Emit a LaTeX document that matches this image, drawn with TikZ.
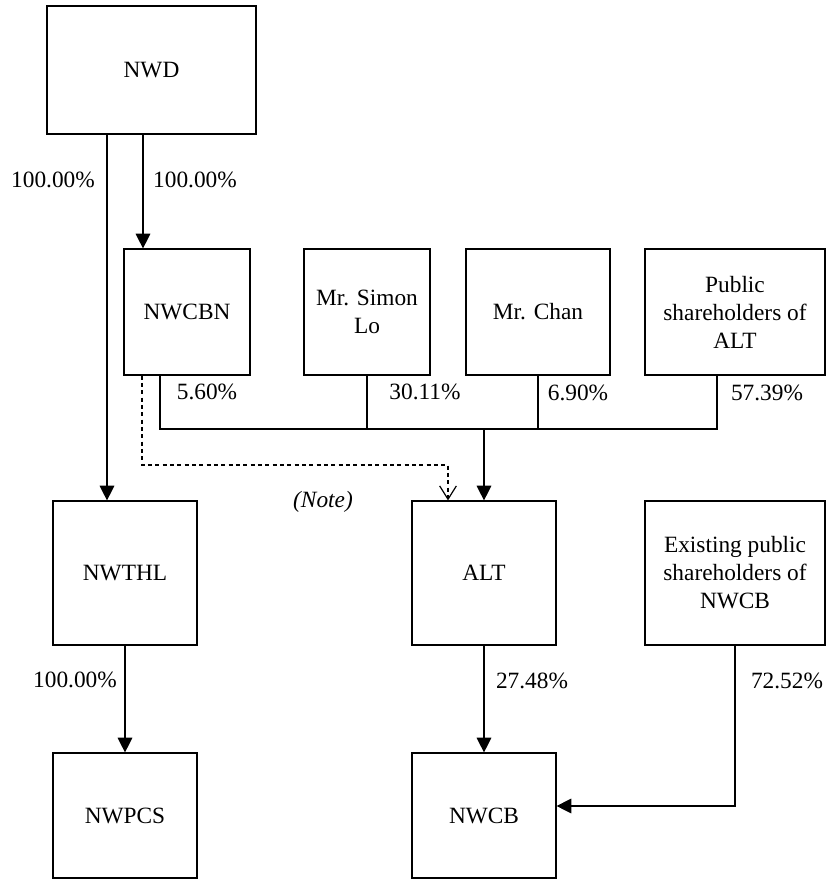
\documentclass[tikz,border=0pt]{standalone}
\usepackage{fontspec}
\setmainfont{Liberation Serif}
\usetikzlibrary{arrows.meta}

\begin{document}
\begin{tikzpicture}[x=0.75pt,y=0.75pt,yscale=-1,xscale=1,
  every node/.style={font=\fontsize{17.5}{21}\selectfont},
  box/.style={draw,line width=0.9pt,inner sep=0pt,align=center},
  boxsize/.style 2 args={minimum width=#1*0.75pt,minimum height=#2*0.75pt},
  pct/.style={inner sep=0.75pt},
  link/.style={line width=0.9pt},
  arr/.style={link,-{Triangle[length=11pt,width=11pt]}},
  notearr/.style={link,dash pattern=on 3pt off 2.5pt,-{Straight Barb[length=10pt,width=12.5pt]}}]
\useasboundingbox (0,0) rectangle (827,881);

%Shape: Boxes
\node[box,boxsize={209}{128}] (nwd) at (151.5,70) {NWD};
\node[box,boxsize={126}{126}] (nwcbn) at (187,312) {NWCBN};
\node[box,boxsize={126}{126}] (simonlo) at (367,312) {Mr. Simon\\Lo};
\node[box,boxsize={144}{126}] (chan) at (538,312) {Mr. Chan};
\node[box,boxsize={180}{126}] (pubalt) at (735,312) {Public\\shareholders of\\ALT};
\node[box,boxsize={144}{144}] (nwthl) at (125,573) {NWTHL};
\node[box,boxsize={144}{144}] (alt) at (484,573) {ALT};
\node[box,boxsize={180}{144}] (exist) at (735,573) {Existing public\\shareholders of\\NWCB};
\node[box,boxsize={144}{125}] (nwpcs) at (125,815.5) {NWPCS};
\node[box,boxsize={144}{125}] (nwcb) at (484,815.5) {NWCB};

%Coordinates for the line positions
\coordinate (xa) at (107,0);
\coordinate (xb) at (143,0);
\coordinate (xc) at (160,0);
\coordinate (xd) at (142,0);
\coordinate (xe) at (448,0);
\coordinate (xf) at (717,0);
\coordinate (bus) at (0,429);
\coordinate (note) at (0,465);
\coordinate (yb) at (0,806);

%Straight Lines
\draw[arr] (nwd.south -| xa) -- (nwthl.north -| xa);
\draw[arr] (nwd.south -| xb) -- (nwcbn.north -| xb);
\draw[link] (nwcbn.south -| xc) -- (bus -| xc) -- (bus -| xf) -- (pubalt.south -| xf);
\draw[link] (simonlo.south) -- (simonlo.south |- bus);
\draw[link] (chan.south) -- (chan.south |- bus);
\draw[arr] (alt.north |- bus) -- (alt.north);
\draw[notearr] (nwcbn.south -| xd) -- (note -| xd) -- (note -| xe) -- (alt.north -| xe);
\draw[arr] (nwthl.south) -- (nwpcs.north);
\draw[arr] (alt.south) -- (nwcb.north);
\draw[arr] (exist.south) |- (nwcb.east |- yb);

% Text Node
\node[pct] (p1) at (53,180) {100.00\%};
\node[pct] (p2) at (195,180) {100.00\%};
\node[pct] (p3) at (207,392) {5.60\%};
\node[pct] (p4) at (425,392) {30.11\%};
\node[pct] (p5) at (578,393) {6.90\%};
\node[pct] (p6) at (767,393) {57.39\%};
\node[pct] (p7) at (75,680) {100.00\%};
\node[pct] (p8) at (532,681) {27.48\%};
\node[pct] (p9) at (787,681) {72.52\%};
% Text Node
\node[pct] (nt) at (323,502) {\itshape (Note)};

\end{tikzpicture}
\end{document}
